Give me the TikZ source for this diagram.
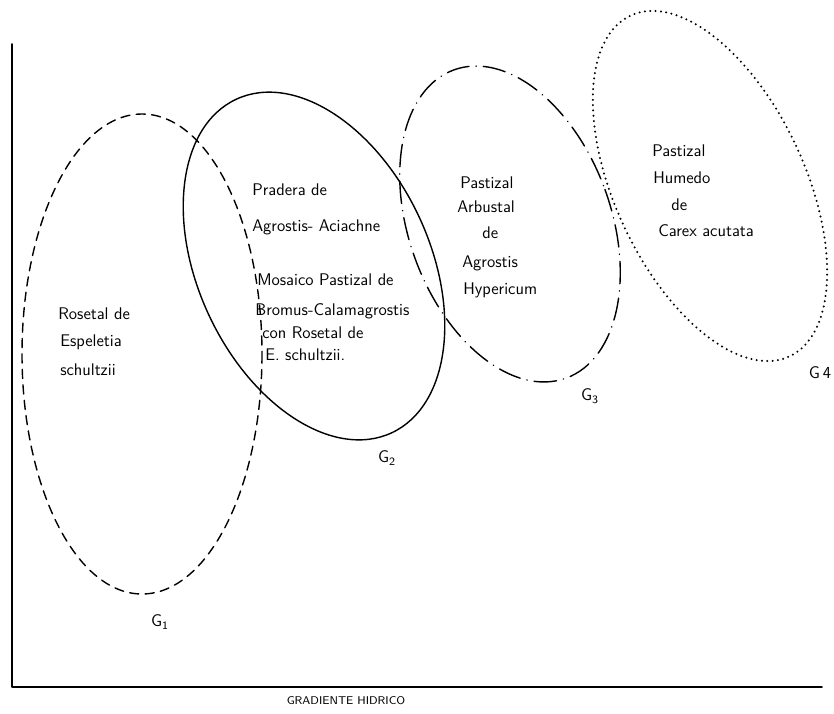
\documentclass[tikz,border=0pt]{standalone}

\begin{document}
\begin{tikzpicture}[x=0.025cm,y=-0.025cm,line cap=round,line join=round,
  rim/.style={line width=1pt},
  zone/.style={font=\sffamily\fontsize{12}{14}\selectfont,anchor=west,inner sep=0pt},
  tag/.style={font=\sffamily\fontsize{12}{14}\selectfont,inner sep=0pt}]
  \useasboundingbox (0,0) rectangle (834,713);

  \coordinate (ytop) at (12,44);
  \coordinate (origin) at (12,687);
  \coordinate (xend) at (822,687);
  \draw[line width=1.3pt] (ytop) -- (origin) -- (xend);
  \node[font=\sffamily\fontsize{8}{10}\selectfont] (gradiente) at (346,701) {GRADIENTE HIDRICO};

  \draw[rim,dash pattern=on 6.5pt off 4.5pt] (142,354) ellipse [x radius=120,y radius=240];
  \draw[rim] [rotate around={25:(314,266)}] (314,266) ellipse [x radius=116,y radius=184];
  \draw[rim,dash pattern=on 16pt off 5pt on 0.2pt off 5pt]
    [rotate around={20:(510,224)}] (510,224) ellipse [x radius=101,y radius=164];
  \draw[line width=1.6pt,dash pattern=on 0pt off 3.8pt]
    [rotate around={25:(710,186)}] (710,186) ellipse [x radius=95,y radius=188];

  \node[zone] (ros1) at (58,314) {Rosetal de};
  \node[zone] (ros2) at (60,342) {Espeletia};
  \node[zone] (ros3) at (60,370) {schultzii};

  \node[zone] (pra1) at (252,190) {Pradera de};
  \node[zone] (pra2) at (252,227) {Agrostis- Aciachne};
  \node[zone] (mos1) at (257,280) {Mosaico Pastizal de};
  \node[zone] (mos2) at (255,311) {Bromus-Calamagrostis};
  \node[zone] (mos3) at (262,333) {con Rosetal de};
  \node[zone] (mos4) at (265,355) {E. schultzii.};

  \node[zone] (arb1) at (460,183) {Pastizal};
  \node[zone] (arb2) at (457,207) {Arbustal};
  \node[zone] (arb3) at (482,233) {de};
  \node[zone] (arb4) at (462,263) {Agrostis};
  \node[zone] (arb5) at (463,290) {Hypericum};

  \node[zone] (hum1) at (652,151) {Pastizal};
  \node[zone] (hum2) at (653,178) {Humedo};
  \node[zone] (hum3) at (671,205) {de};
  \node[zone] (hum4) at (658,231) {Carex acutata};

  \node[tag] (g1) at (160,622) {G\textsubscript{1}};
  \node[tag] (g2) at (387,458) {G\textsubscript{2}};
  \node[tag] (g3) at (590,396) {G\textsubscript{3}};
  \node[tag] (g4) at (820,373) {G\,4};
\end{tikzpicture}
\end{document}
